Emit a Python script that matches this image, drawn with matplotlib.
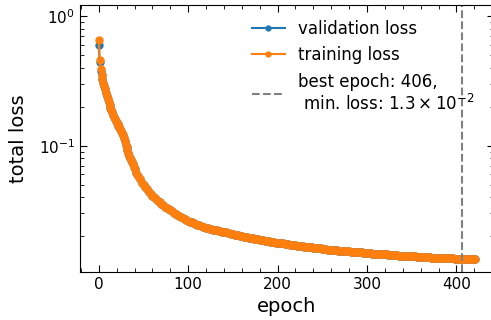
import matplotlib
matplotlib.use("Agg")
import matplotlib.pyplot as plt
from matplotlib.ticker import AutoMinorLocator

epochs = list(range(0, 41)) + list(range(42, 421, 2)) + [421]

train_loss = [
    # 0 .. 40 (every epoch)
    0.66, 0.457, 0.39, 0.35, 0.325, 0.305, 0.288, 0.272, 0.257, 0.243,
    0.230, 0.218, 0.207, 0.197, 0.189, 0.181, 0.174, 0.167, 0.161, 0.156,
    0.151, 0.147, 0.143, 0.139, 0.135, 0.131, 0.126, 0.120, 0.114, 0.108,
    0.102, 0.097, 0.092, 0.088, 0.084, 0.081, 0.078, 0.075, 0.072, 0.069,
    0.066,
    # 42 .. 420 (every second epoch)
    0.062, 0.058, 0.055, 0.052, 0.050, 0.048, 0.046, 0.0443, 0.0427, 0.0412,
    0.0399, 0.0387, 0.0376, 0.0366, 0.0356, 0.0347, 0.0339, 0.0331, 0.0324, 0.0318,
    0.0311, 0.0305, 0.0299, 0.0293, 0.0288, 0.0283, 0.0278, 0.0273, 0.0268, 0.0264,
    0.0260, 0.0256, 0.0252, 0.0249, 0.0246, 0.0243, 0.0240, 0.0237, 0.0235, 0.0233,
    0.0231, 0.0229, 0.0227, 0.0225, 0.0224, 0.0222, 0.0220, 0.0219, 0.0217, 0.0216,
    0.0214, 0.0213, 0.0211, 0.0210, 0.0208, 0.0206, 0.0205, 0.0203, 0.0202, 0.0200,
    0.0199, 0.0198, 0.0196, 0.0195, 0.0194, 0.0193, 0.0191, 0.0190, 0.0189, 0.0188,
    0.0187, 0.0186, 0.0185, 0.0184, 0.0183, 0.0182, 0.0181, 0.0180, 0.0179, 0.0178,
    0.0177, 0.0176, 0.0176, 0.0175, 0.0174, 0.0173, 0.0172, 0.0172, 0.0171, 0.0170,
    0.0169, 0.0168, 0.0168, 0.0167, 0.0166, 0.0166, 0.0165, 0.0164, 0.0164, 0.0163,
    0.0163, 0.0162, 0.0161, 0.0161, 0.0160, 0.0160, 0.0159, 0.0158, 0.0158, 0.0157,
    0.0157, 0.0156, 0.0156, 0.0155, 0.0155, 0.0154, 0.0154, 0.0153, 0.0153, 0.0153,
    0.0152, 0.0152, 0.0151, 0.0151, 0.0151, 0.0150, 0.0150, 0.0149, 0.0149, 0.0149,
    0.0148, 0.0148, 0.0147, 0.0147, 0.0147, 0.0146, 0.0146, 0.0146, 0.0145, 0.0145,
    0.0145, 0.0144, 0.0144, 0.0144, 0.0143, 0.0143, 0.0143, 0.0142, 0.0142, 0.0142,
    0.0141, 0.0141, 0.0141, 0.0141, 0.0140, 0.0140, 0.0140, 0.0139, 0.0139, 0.0139,
    0.0139, 0.0138, 0.0138, 0.0138, 0.0138, 0.0137, 0.0137, 0.0137, 0.0137, 0.0136,
    0.0136, 0.0136, 0.0136, 0.0135, 0.0135, 0.0135, 0.0135, 0.0135, 0.0134, 0.0134,
    0.0134, 0.0134, 0.0133, 0.0134, 0.0134, 0.0134, 0.0134, 0.0134, 0.0134, 0.0134,
    # 421
    0.0134,
]

# validation differs visibly only in the first epochs
val_loss_early = [0.60, 0.44, 0.38, 0.35]
val_loss = val_loss_early + train_loss[len(val_loss_early):]

best_epoch = 406
min_loss_label = r"$1.3 \times 10^{-2}$"

fig = plt.figure(figsize=(4.91, 3.2), dpi=100)
ax = fig.add_axes([80 / 491, 48 / 320, 414 / 491, 267 / 320])

ax.plot(epochs, val_loss, marker="o", ms=5, lw=1.5, color="tab:blue",
        label="validation loss")
ax.plot(epochs, train_loss, marker="o", ms=5, lw=1.5, color="tab:orange",
        label="training loss")
ax.axvline(best_epoch, color="gray", ls="--", lw=1.5,
           label=f"best epoch: {best_epoch},\n min. loss: {min_loss_label}")

ax.set_yscale("log")
ax.set_ylim(0.0106, 1.22)
ax.xaxis.set_minor_locator(AutoMinorLocator())
ax.tick_params(which="both", direction="in", top=True, right=True, labelsize=11)
ax.tick_params(which="major", length=5)
ax.tick_params(which="minor", length=3)

ax.set_xlabel("epoch", fontsize=14, labelpad=4)
ax.set_ylabel("total loss", fontsize=14, labelpad=8)
ax.legend(loc="upper right", frameon=False, fontsize=12, markerscale=0.7,
          bbox_to_anchor=(0.99, 1.0))

fig.savefig("out.png", dpi=100)
